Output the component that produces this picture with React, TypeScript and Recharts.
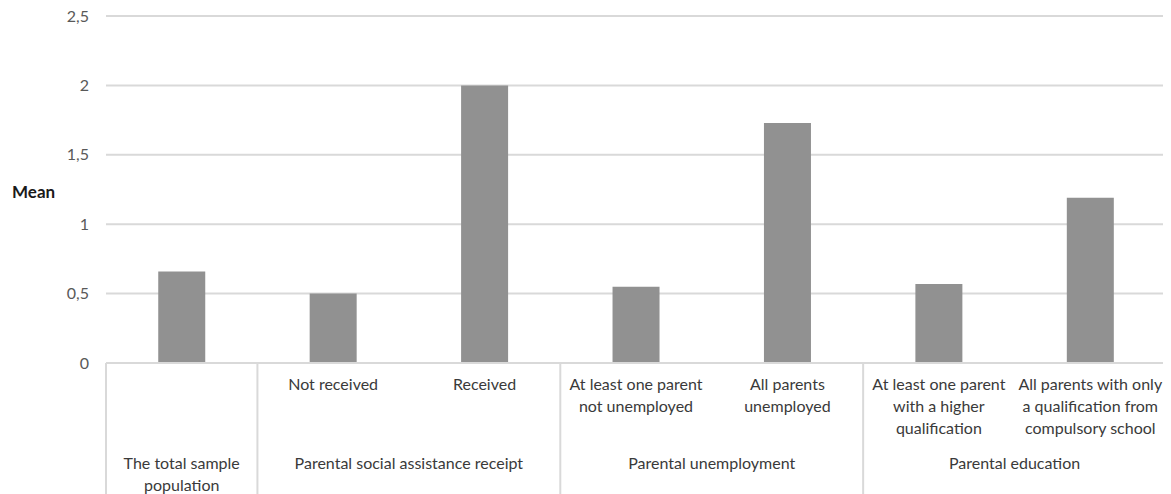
import React from "react";
import { BarChart, Bar, XAxis, YAxis, CartesianGrid } from "recharts";

const categoryIds = ["total", "notReceived", "received", "notUnemployed", "allUnemployed", "higherQual", "compulsory"];
const categoryLines: string[][] = [
  [],
  ["Not received"],
  ["Received"],
  ["At least one parent", "not unemployed"],
  ["All parents", "unemployed"],
  ["At least one parent", "with a higher", "qualification"],
  ["All parents with only", "a qualification from", "compulsory school"],
];
const meanValues = [0.66, 0.5, 2.0, 0.55, 1.73, 0.57, 1.19];

const groupLabels: string[][] = [
  ["The total sample", "population"],
  ["Parental social assistance receipt"],
  ["Parental unemployment"],
  ["Parental education"],
];
const groupStarts = [0, 1, 3, 5];
const groupSpans = [1, 2, 2, 2];

const yTicks = [0, 0.5, 1, 1.5, 2, 2.5];

const data = categoryIds.map((id, i) => ({ id, mean: meanValues[i] }));

const CHART_W = 1163;
const CHART_H = 490;
const MARGIN = { top: 12, right: 5, left: 0, bottom: 0 };
const Y_AXIS_W = 98;
const X_AXIS_H = 131;
const STEP = (CHART_W - MARGIN.left - MARGIN.right - Y_AXIS_W) / categoryIds.length;

const FONT = "Lato, 'Liberation Sans', sans-serif";
const LINE_COLOR = "#d9d9d9";
const TEXT_COLOR = "#3a3a3a";
const LABEL_SIZE = 16;

const CategoryTick = (props: any) => {
  const { x, y, payload } = props;
  const index: number = payload.index;
  const lines = categoryLines[index] || [];
  const gi = groupStarts.indexOf(index);
  const elements: React.ReactNode[] = [];
  lines.forEach((t, li) => {
    elements.push(
      <text key={"s" + li} x={x} y={y + 27 + li * 22} textAnchor="middle" fill={TEXT_COLOR} fontSize={LABEL_SIZE} fontFamily={FONT}>
        {t}
      </text>
    );
  });
  if (gi >= 0) {
    const cx = x + ((groupSpans[gi] - 1) * STEP) / 2;
    groupLabels[gi].forEach((t, li) => {
      elements.push(
        <text key={"g" + li} x={cx} y={y + 106 + li * 22} textAnchor="middle" fill={TEXT_COLOR} fontSize={LABEL_SIZE} fontFamily={FONT}>
          {t}
        </text>
      );
    });
    elements.push(
      <line key="div" x1={x - STEP / 2} x2={x - STEP / 2} y1={y} y2={y + X_AXIS_H + 4} stroke={LINE_COLOR} strokeWidth={2} />
    );
  }
  if (index === categoryIds.length - 1) {
    elements.push(
      <line key="end" x1={x + STEP / 2} x2={x + STEP / 2} y1={y} y2={y + X_AXIS_H + 4} stroke={LINE_COLOR} strokeWidth={2} />
    );
  }
  return <g>{elements}</g>;
};

export default function App() {
  return (
    <div style={{ width: CHART_W, height: CHART_H, marginTop: -4, background: "#fff", fontFamily: FONT }}>
      <BarChart width={CHART_W} height={CHART_H} data={data} margin={MARGIN} barCategoryGap="34.5%">
        <CartesianGrid vertical={false} stroke={LINE_COLOR} strokeWidth={2} />
        <XAxis
          dataKey="id"
          type="category"
          height={X_AXIS_H}
          interval={0}
          tickLine={false}
          tickSize={0}
          tickMargin={0}
          axisLine={{ stroke: LINE_COLOR, strokeWidth: 2 }}
          tick={<CategoryTick />}
        />
        <YAxis
          width={Y_AXIS_W}
          domain={[0, 2.5]}
          ticks={yTicks}
          interval={0}
          axisLine={false}
          tickLine={false}
          tickSize={6}
          tickMargin={11}
          tick={{ fill: "#595959", fontSize: 16, fontFamily: FONT }}
          tickFormatter={(v: number) => String(v).replace(".", ",")}
          label={{
            value: "Mean",
            position: "insideLeft",
            offset: 4,
            dy: 2,
            style: { fontWeight: 700, fontSize: 17, fill: "#1a1a1a", fontFamily: FONT },
          }}
        />
        <Bar dataKey="mean" fill="#919191" isAnimationActive={false} />
      </BarChart>
    </div>
  );
}
